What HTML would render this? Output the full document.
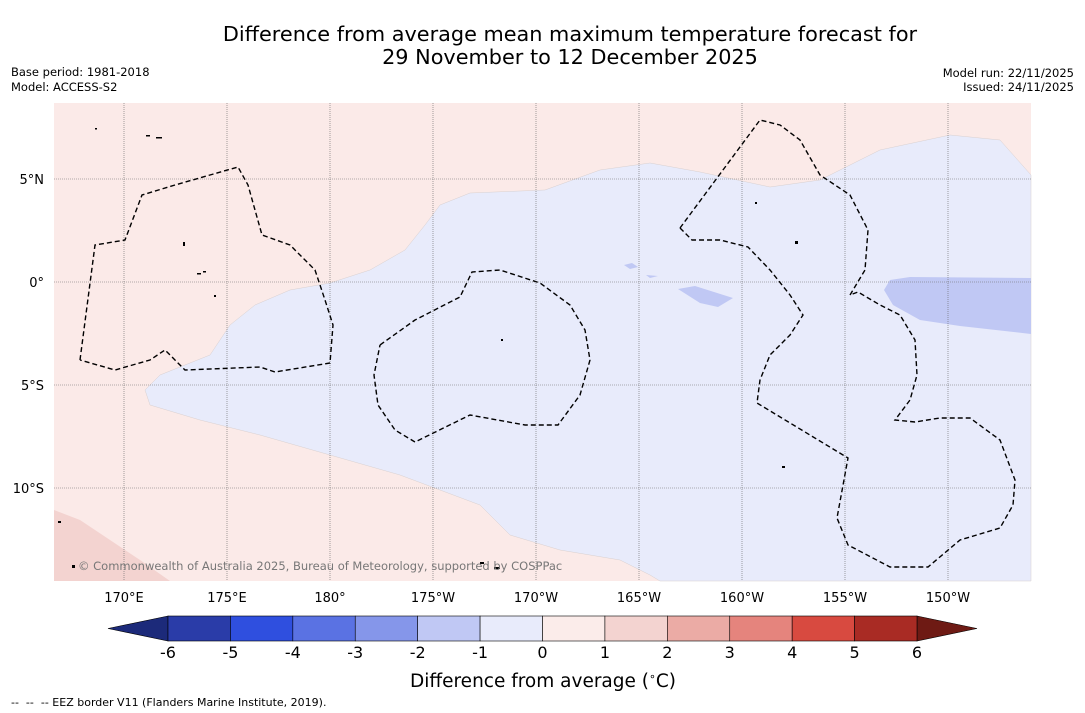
<!DOCTYPE html>
<html><head><meta charset="utf-8">
<style>
body{margin:0;background:#fff;width:1085px;height:713px;overflow:hidden;font-family:"Liberation Sans","DejaVu Sans",sans-serif;}
svg{position:absolute;left:0;top:0;}
</style></head>
<body>
<svg id="chart" width="1085" height="713" xmlns="http://www.w3.org/2000/svg" font-family="DejaVu Sans, Liberation Sans, sans-serif">
  <text x="570" y="41" font-size="20.8" text-anchor="middle">Difference from average mean maximum temperature forecast for</text>
  <text x="570" y="64" font-size="20.8" text-anchor="middle">29 November to 12 December 2025</text>
  <text x="11" y="76" font-size="11.5">Base period: 1981-2018</text>
  <text x="11" y="91" font-size="11.5">Model: ACCESS-S2</text>
  <text x="1074" y="77" font-size="11.5" text-anchor="end">Model run: 22/11/2025</text>
  <text x="1074" y="91" font-size="11.5" text-anchor="end">Issued: 24/11/2025</text>

  <g>
    <rect x="54" y="103" width="977" height="478" fill="#fbeae8"/>
    <path fill="#f3d3d0" d="M54,510 L80,520 110,540 140,560 170,581 54,581Z"/>
    <path fill="#e8ebfb" stroke="#d8d0d0" stroke-width="0.5" d="M1031,175 L1000,140 950,135 880,150 820,180 770,187 700,172 650,163 600,170 545,190 470,193 440,205 425,225 405,250 370,270 330,283 290,290 255,305 230,325 210,355 160,375 145,390 150,405 200,420 260,435 330,455 400,475 440,490 480,505 510,535 560,550 620,560 650,575 660,581 1031,581Z"/>
    <path fill="#c0c8f4" d="M890,280 L910,277 1031,278 1031,334 960,326 920,320 893,305 884,290Z"/>
    <path fill="#c0c8f4" d="M678,289 L695,286 733,298 718,307 700,303Z"/>
    <path fill="#c0c8f4" d="M624,265 L632,263 638,267 630,269Z M646,275 L658,276 650,278Z"/>
    <g id="grid" stroke="#666" stroke-width="0.6" stroke-dasharray="1,1"></g>
    <g fill="none" stroke="#000" stroke-width="1.4" stroke-dasharray="5,3">
      <polyline points="80,360 95,245 125,240 142,195 175,185 238,167 248,185 262,235 290,245 315,270 325,300 333,325 330,363 275,372 260,367 185,370 165,350 150,360 115,370 80,360"/>
      <polyline points="380,345 415,320 460,297 472,272 500,270 540,283 570,305 585,330 590,360 580,395 558,425 525,425 470,415 415,442 395,430 378,405 374,375 380,345"/>
      <polyline points="680,228 760,120 780,125 800,140 820,175 850,195 868,230 865,270 850,295"/>
      <polyline points="680,228 692,240 720,240 748,247 770,270 790,295 803,315 790,335 770,355 760,380 757,403 848,458 837,518 848,545 890,567 928,567 960,540 1000,528 1013,505 1015,480 1000,440 970,418 940,418 915,422 895,420 910,400 917,375 915,340 900,315 880,305 858,292 850,295"/>
    </g>
    <g fill="#000">
      <rect x="146" y="135" width="4" height="1.5"/><rect x="156" y="137" width="6" height="1.5"/><rect x="95" y="128" width="2" height="1.5"/><rect x="183" y="242" width="2" height="4"/><rect x="197" y="273" width="4" height="1.5"/><rect x="203" y="271" width="3" height="1.5"/><rect x="214" y="295" width="2" height="2"/><rect x="501" y="339" width="2" height="2"/><rect x="755" y="202" width="2" height="2"/><rect x="795" y="241" width="3" height="3"/><rect x="782" y="466" width="3" height="2"/><rect x="480" y="562" width="4" height="2"/><rect x="494" y="567" width="6" height="2"/><rect x="72" y="565" width="3" height="3"/><rect x="58" y="521" width="3" height="2"/>
    </g>
    <text x="78" y="570" font-size="11.5" fill="#777">© Commonwealth of Australia 2025, Bureau of Meteorology, supported by COSPPac</text>
    <g id="ticks" font-size="13"></g>
  </g>

  <g id="colorbar"></g>
  <text x="543" y="687" font-size="18.5" text-anchor="middle">Difference from average (<tspan font-size="11" dy="-7">∘</tspan><tspan dy="7">C)</tspan></text>
  <text x="11" y="706" font-size="11" xml:space="preserve">--  --  -- EEZ border V11 (Flanders Marine Institute, 2019).</text>
</svg>
<script>
const NS = "http://www.w3.org/2000/svg";
const lonTicks = [170, 175, 180, 185, 190, 195, 200, 205, 210];
const lonLabels = ["170°E","175°E","180°","175°W","170°W","165°W","160°W","155°W","150°W"];
const latTicks = [5, 0, -5, -10];
const latLabels = ["5°N","0°","5°S","10°S"];
const cbValues = [-6,-5,-4,-3,-2,-1,0,1,2,3,4,5,6];
const cbColors = ["#2a3ca8","#2f4fdf","#5a72e3","#8596ea","#c0c8f4","#e8ebfb","#fbecea","#f3d3d0","#ebaba5","#e5847d","#d84a40","#a92b24"];
const cbUnder = "#1c2a7a", cbOver = "#6e1a14";

const xLon = lon => 124 + (lon - 170) / 5 * 103;
const yLat = lat => 282 - lat / 5 * 103;
const xCb = v => 168 + (v + 6) / 12 * 749;

function mk(tag, attrs, parent){ const e=document.createElementNS(NS,tag); for(const k in attrs) e.setAttribute(k,attrs[k]); parent.appendChild(e); return e; }

const grid = document.getElementById('grid');
const ticks = document.getElementById('ticks');
lonTicks.forEach((lon,i)=>{
  const l = mk('line',{x1:xLon(lon),x2:xLon(lon),y1:103,y2:581},grid);
  
  
  const t = mk('text',{x:xLon(lon),y:602,'text-anchor':'middle'},ticks);
  
  
  t.textContent = lonLabels[i];
});
latTicks.forEach((lat,i)=>{
  const l = mk('line',{x1:54,x2:1031,y1:yLat(lat),y2:yLat(lat)},grid);
  
  
  const t = mk('text',{x:44,y:yLat(lat)+5,'text-anchor':'end'},ticks);
  
  
  t.textContent = latLabels[i];
});

const cb = document.getElementById('colorbar');
const y0=616, y1=641, ym=628.5;
const under = mk('polygon',{points:`${xCb(-6)},${y0} 108,${ym} ${xCb(-6)},${y1}`,fill:cbUnder,stroke:'#000','stroke-width':0.6},cb);


const over = mk('polygon',{points:`${xCb(6)},${y0} 977,${ym} ${xCb(6)},${y1}`,fill:cbOver,stroke:'#000','stroke-width':0.6},cb);


for(let i=0;i<cbColors.length;i++){
  const r = mk('rect',{x:xCb(cbValues[i]),y:y0,width:xCb(cbValues[i+1])-xCb(cbValues[i]),height:y1-y0,fill:cbColors[i],stroke:'#000','stroke-width':0.6},cb);
  
  
}
cbValues.forEach(v=>{
  const t = mk('text',{x:xCb(v),y:658,'font-size':16,'text-anchor':'middle'},cb);
  
  
  t.textContent = v;
});
</script>
</body></html>
